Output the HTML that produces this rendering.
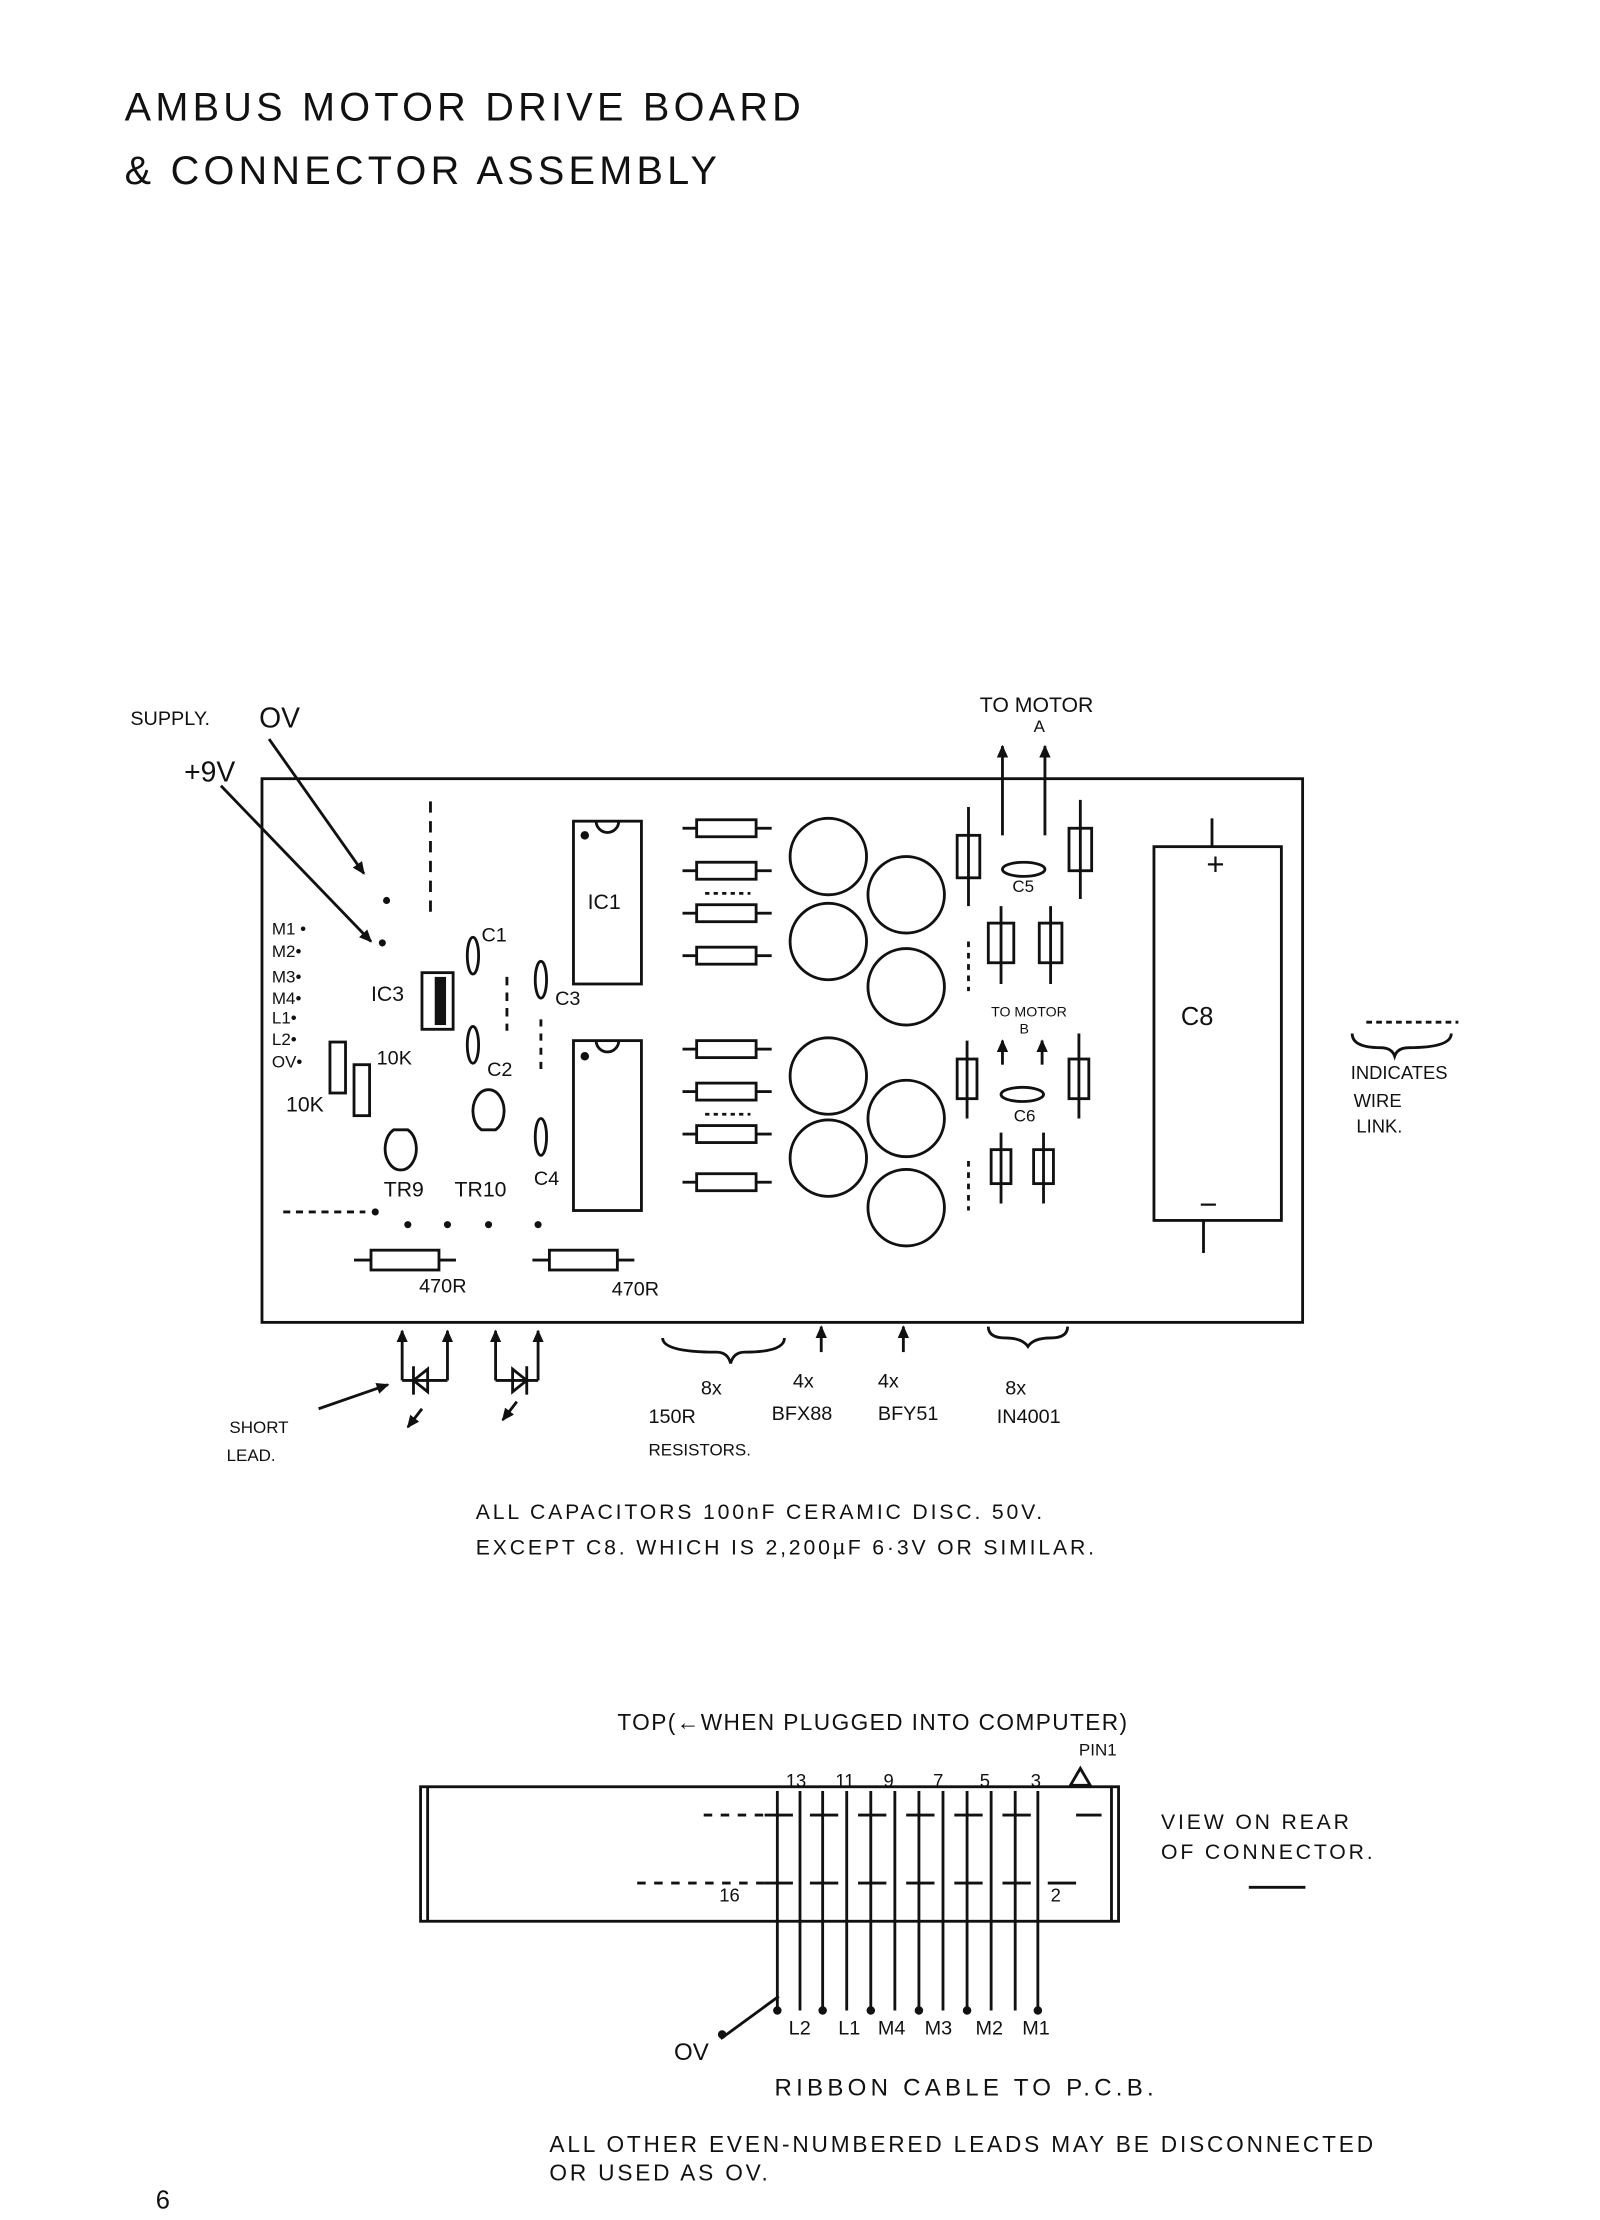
<!DOCTYPE html>
<html><head><meta charset="utf-8"><style>
html,body{margin:0;padding:0;background:#fff}
svg{display:block}
text{font-family:"Liberation Sans",sans-serif;fill:#111}
</style></head><body>
<svg width="1600" height="2220" viewBox="0 0 1130 1568" xmlns="http://www.w3.org/2000/svg">
<defs><marker id="ah" markerWidth="10" markerHeight="10" refX="8" refY="5" orient="auto" markerUnits="userSpaceOnUse"><path d="M0,1 L9,5 L0,9 z" fill="#111"/></marker></defs>
<rect width="1130" height="1568" fill="#fff"/>
<text x="88" y="85" font-size="28" letter-spacing="3">AMBUS MOTOR DRIVE BOARD</text>
<text x="88" y="130" font-size="28" letter-spacing="3">&amp; CONNECTOR ASSEMBLY</text>

<text x="92" y="512" font-size="14">SUPPLY.</text>
<text x="183" y="514" font-size="20">OV</text>
<text x="130" y="552" font-size="20">+9V</text>
<g stroke="#111" stroke-width="2" fill="none">
<line x1="190" y1="522" x2="257" y2="617" marker-end="url(#ah)"/>
<line x1="156" y1="555" x2="262" y2="665" marker-end="url(#ah)"/>
<rect x="185" y="550" width="735" height="384"/>
<line x1="304" y1="566" x2="304" y2="650" stroke-dasharray="8,6"/>
<rect x="405" y="580" width="48" height="115"/>
<path d="M421,580 a8,8 0 0 0 16,0"/>
<rect x="405" y="735" width="48" height="120"/>
<path d="M421,735 a8,8 0 0 0 16,0"/>
<rect x="298" y="687" width="22" height="40"/>
<ellipse cx="334" cy="675" rx="4" ry="13"/>
<ellipse cx="334" cy="738" rx="4" ry="13"/>
<ellipse cx="382" cy="692" rx="4" ry="13"/>
<ellipse cx="382" cy="803" rx="4" ry="13"/>
<line x1="358" y1="690" x2="358" y2="728" stroke-dasharray="6,5"/>
<line x1="382" y1="720" x2="382" y2="755" stroke-dasharray="5,5"/>
<rect x="233" y="736" width="11" height="36"/>
<rect x="250" y="752" width="11" height="36"/>
<path d="M278,798 a11,15 0 1 0 10,0 z"/>
<path d="M340,798 a11,15 0 1 1 10,0 z"/>
<line x1="200" y1="856" x2="258" y2="856" stroke-dasharray="5,4"/>
<rect x="262" y="883" width="48" height="14"/><line x1="250" y1="890" x2="262" y2="890"/><line x1="310" y1="890" x2="322" y2="890"/>
<rect x="388" y="883" width="48" height="14"/><line x1="376" y1="890" x2="388" y2="890"/><line x1="436" y1="890" x2="448" y2="890"/>
<g id="r">
<rect x="492" y="579" width="42" height="12"/><line x1="482" y1="585" x2="492" y2="585"/><line x1="534" y1="585" x2="545" y2="585"/>
</g>
<use href="#r" y="30"/><use href="#r" y="60"/><use href="#r" y="90"/>
<use href="#r" y="156"/><use href="#r" y="186"/><use href="#r" y="216"/><use href="#r" y="250"/>
<line x1="498" y1="631" x2="530" y2="631" stroke-dasharray="3,3"/>
<line x1="498" y1="787" x2="530" y2="787" stroke-dasharray="3,3"/>
<circle cx="585" cy="605" r="27"/><circle cx="640" cy="632" r="27"/>
<circle cx="585" cy="665" r="27"/><circle cx="640" cy="697" r="27"/>
<circle cx="585" cy="760" r="27"/><circle cx="640" cy="790" r="27"/>
<circle cx="585" cy="818" r="27"/><circle cx="640" cy="853" r="27"/>
<rect x="676" y="590" width="16" height="30"/><rect x="755" y="585" width="16" height="30"/>
<rect x="698" y="652" width="18" height="28"/><rect x="734" y="652" width="16" height="28"/>
<rect x="676" y="748" width="14" height="28"/><rect x="755" y="748" width="14" height="28"/>
<rect x="700" y="812" width="14" height="24"/><rect x="730" y="812" width="14" height="24"/>
<line x1="684" y1="570" x2="684" y2="640"/><line x1="763" y1="565" x2="763" y2="635"/>
<line x1="707" y1="640" x2="707" y2="695"/><line x1="742" y1="640" x2="742" y2="695"/>
<line x1="683" y1="735" x2="683" y2="790"/><line x1="762" y1="730" x2="762" y2="790"/>
<line x1="707" y1="800" x2="707" y2="850"/><line x1="737" y1="800" x2="737" y2="850"/>
<ellipse cx="723" cy="614" rx="15" ry="5"/><ellipse cx="722" cy="773" rx="15" ry="5"/>
<line x1="684" y1="665" x2="684" y2="700" stroke-dasharray="4,4"/>
<line x1="684" y1="820" x2="684" y2="855" stroke-dasharray="4,4"/>
<line x1="708" y1="590" x2="708" y2="527" marker-end="url(#ah)"/>
<line x1="738" y1="590" x2="738" y2="527" marker-end="url(#ah)"/>
<line x1="708" y1="752" x2="708" y2="735" marker-end="url(#ah)"/>
<line x1="736" y1="752" x2="736" y2="735" marker-end="url(#ah)"/>
<rect x="815" y="598" width="90" height="264"/>
<line x1="856" y1="578" x2="856" y2="598"/><line x1="850" y1="862" x2="850" y2="885"/>
<line x1="284" y1="975" x2="284" y2="940" marker-end="url(#ah)"/>
<line x1="316" y1="975" x2="316" y2="940" marker-end="url(#ah)"/>
<line x1="350" y1="975" x2="350" y2="940" marker-end="url(#ah)"/>
<line x1="380" y1="975" x2="380" y2="940" marker-end="url(#ah)"/>
<path d="M284,975 L300,975 M316,975 L300,975 M292,965 L292,985 M292,975 L302,967 L302,983 z"/>
<path d="M350,975 L380,975 M372,965 L372,985 M372,975 L362,967 L362,983 z"/>
<line x1="225" y1="995" x2="274" y2="978" marker-end="url(#ah)"/>
<line x1="298" y1="995" x2="288" y2="1008" marker-end="url(#ah)"/>
<line x1="365" y1="990" x2="355" y2="1003" marker-end="url(#ah)"/>
<path d="M468,945 q0,10 38,10 q8,0 10,8 q2,-8 10,-8 q28,0 28,-10"/>
<path d="M698,937 q0,8 12,8 q12,0 16,6 q4,-6 16,-6 q12,0 12,-8"/>
<line x1="580" y1="955" x2="580" y2="937" marker-end="url(#ah)"/>
<line x1="638" y1="955" x2="638" y2="937" marker-end="url(#ah)"/>
<path d="M955,730 q0,10 20,10 q8,0 10,6 q2,-6 10,-6 q30,0 30,-10"/>
<line x1="965" y1="722" x2="1030" y2="722" stroke-dasharray="4,3"/>
<rect x="297" y="1262" width="493" height="95"/>
<line x1="302" y1="1262" x2="302" y2="1357"/><line x1="785" y1="1262" x2="785" y2="1357"/>
<line x1="497" y1="1282" x2="540" y2="1282" stroke-dasharray="6,6"/>
<line x1="450" y1="1330" x2="540" y2="1330" stroke-dasharray="6,6"/>
<line x1="760" y1="1282" x2="778" y2="1282"/><line x1="740" y1="1330" x2="760" y2="1330"/>
<g id="lead"><line x1="549" y1="1265" x2="549" y2="1420"/><line x1="540" y1="1282" x2="560" y2="1282"/><line x1="540" y1="1330" x2="560" y2="1330"/></g>
<line x1="565" y1="1265" x2="565" y2="1420"/>
<use href="#lead" x="32"/><line x1="598" y1="1265" x2="598" y2="1420"/>
<use href="#lead" x="66"/><line x1="632" y1="1265" x2="632" y2="1420"/>
<use href="#lead" x="100"/><line x1="666" y1="1265" x2="666" y2="1420"/>
<use href="#lead" x="134"/><line x1="700" y1="1265" x2="700" y2="1420"/>
<use href="#lead" x="168"/><line x1="733" y1="1265" x2="733" y2="1420"/>
<line x1="882" y1="1333" x2="922" y2="1333"/>
<line x1="509" y1="1440" x2="550" y2="1410"/>
<path d="M770,1261 l-7,-12 l-7,12 z"/>
</g>
<g fill="#111">
<circle cx="273" cy="636" r="2.5"/><circle cx="270" cy="666" r="2.5"/>
<circle cx="265" cy="856" r="2.5"/><circle cx="288" cy="865" r="2.5"/><circle cx="316" cy="865" r="2.5"/><circle cx="345" cy="865" r="2.5"/><circle cx="380" cy="865" r="2.5"/>
<rect x="307" y="690" width="8" height="34"/>
<circle cx="413" cy="590" r="3"/><circle cx="413" cy="746" r="3"/>
<circle cx="549" cy="1420" r="3"/><circle cx="581" cy="1420" r="3"/><circle cx="615" cy="1420" r="3"/><circle cx="649" cy="1420" r="3"/><circle cx="683" cy="1420" r="3"/><circle cx="733" cy="1420" r="3"/>
<circle cx="510" cy="1437" r="3"/>
</g>
<g font-size="12">
<text x="192" y="660">M1 •</text><text x="192" y="676">M2•</text><text x="192" y="694">M3•</text><text x="192" y="709">M4•</text><text x="192" y="723">L1•</text><text x="192" y="738">L2•</text><text x="192" y="754">OV•</text>
</g>
<text x="262" y="707" font-size="15">IC3</text>
<text x="340" y="665" font-size="14">C1</text><text x="344" y="760" font-size="14">C2</text>
<text x="392" y="710" font-size="14">C3</text><text x="377" y="837" font-size="14">C4</text>
<text x="266" y="752" font-size="14">10K</text><text x="202" y="785" font-size="15">10K</text>
<text x="271" y="845" font-size="15">TR9</text><text x="321" y="845" font-size="15">TR10</text>
<text x="296" y="913" font-size="14">470R</text><text x="432" y="915" font-size="14">470R</text>
<text x="415" y="642" font-size="15">IC1</text>
<text x="715" y="630" font-size="12">C5</text><text x="716" y="792" font-size="12">C6</text>
<text x="692" y="503" font-size="15">TO MOTOR</text><text x="730" y="517" font-size="12">A</text>
<text x="700" y="718" font-size="10">TO MOTOR</text><text x="720" y="730" font-size="10">B</text>
<text x="852" y="618" font-size="22">+</text><text x="847" y="858" font-size="22">−</text>
<text x="834" y="724" font-size="18">C8</text>
<text x="954" y="762" font-size="13">INDICATES</text><text x="956" y="782" font-size="13">WIRE</text><text x="958" y="800" font-size="13">LINK.</text>
<text x="162" y="1012" font-size="12">SHORT</text><text x="160" y="1032" font-size="12">LEAD.</text>
<g font-size="14">
<text x="495" y="985">8x</text><text x="560" y="980">4x</text><text x="620" y="980">4x</text><text x="710" y="985">8x</text>
<text x="458" y="1005">150R</text><text x="545" y="1003">BFX88</text><text x="620" y="1003">BFY51</text><text x="704" y="1005">IN4001</text>
<text x="458" y="1028" font-size="12">RESISTORS.</text>
</g>
<text x="336" y="1073" font-size="15" letter-spacing="2">ALL CAPACITORS 100nF CERAMIC DISC. 50V.</text>
<text x="336" y="1098" font-size="15" letter-spacing="2">EXCEPT C8. WHICH IS 2,200µF 6·3V OR SIMILAR.</text>
<text x="436" y="1222" font-size="16" letter-spacing="1">TOP(←WHEN PLUGGED INTO COMPUTER)</text>
<text x="762" y="1240" font-size="12">PIN1</text>
<g font-size="13"><text x="555" y="1262">13</text><text x="590" y="1262">11</text><text x="624" y="1262">9</text><text x="659" y="1262">7</text><text x="692" y="1262">5</text><text x="728" y="1262">3</text>
<text x="508" y="1343">16</text><text x="742" y="1343">2</text></g>
<text x="820" y="1292" font-size="15" letter-spacing="2">VIEW ON REAR</text>
<text x="820" y="1313" font-size="15" letter-spacing="2">OF CONNECTOR.</text>
<g font-size="14"><text x="557" y="1437">L2</text><text x="592" y="1437">L1</text><text x="620" y="1437">M4</text><text x="653" y="1437">M3</text><text x="689" y="1437">M2</text><text x="722" y="1437">M1</text></g>
<text x="476" y="1455" font-size="17">OV</text>
<text x="547" y="1480" font-size="17" letter-spacing="3">RIBBON CABLE TO P.C.B.</text>
<text x="388" y="1520" font-size="16" letter-spacing="2">ALL OTHER EVEN-NUMBERED LEADS MAY BE DISCONNECTED</text>
<text x="388" y="1540" font-size="16" letter-spacing="2">OR USED AS OV.</text>
<text x="110" y="1560" font-size="18">6</text>
</svg>
</body></html>
